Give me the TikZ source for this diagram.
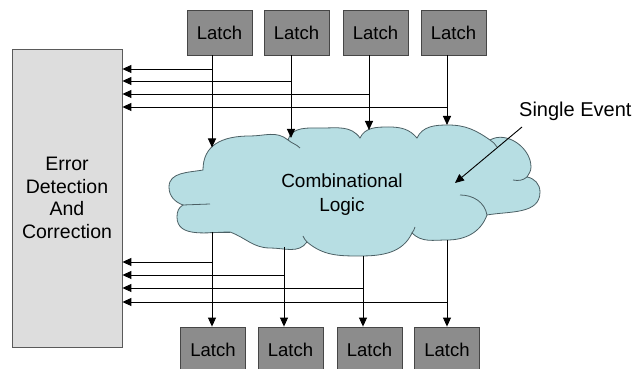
\documentclass[tikz,border=0pt]{standalone}
\usepackage{fontspec}
\setmainfont{Liberation Sans}
\usetikzlibrary{arrows.meta}
\definecolor{latchgray}{RGB}{140,140,140}
\definecolor{latchborder}{RGB}{70,70,70}
\definecolor{edacbg}{RGB}{221,221,221}
\definecolor{edacborder}{RGB}{90,90,90}
\definecolor{cloudbg}{RGB}{183,222,227}
\definecolor{cloudborder}{RGB}{75,95,100}

\begin{document}
\begin{tikzpicture}[
    x=1pt, y=1pt,
    >={Triangle[length=9pt, width=8pt]},
    latch/.style={fill=latchgray, draw=latchborder, line width=0.8pt, minimum width=65pt, minimum height=45pt, inner sep=0pt, font=\fontsize{18.5}{22}\selectfont},
    wire/.style={black, line width=0.9pt},
    crease/.style={cloudborder, line width=0.8pt}
]
\useasboundingbox (0,0) rectangle (641,369);
\clip (0,0) rectangle (641,369);

% Error Detection And Correction block
\node[fill=edacbg, draw=edacborder, line width=0.8pt, minimum width=110pt, minimum height=298pt, inner sep=0pt, align=center, font=\fontsize{19.5}{22.7}\selectfont] (EDAC) at (67,171) {Error\\Detection\\And\\Correction};

% Combinational Logic cloud
\filldraw[fill=cloudbg, draw=cloudborder, line width=0.8pt]
    (203,199) .. controls (203,224) and (222,233) .. (250,233) to[out=0,in=140] (288,229)
    to[out=75,in=180] (322,241) to[out=0,in=125] (360,231)
    to[out=65,in=180] (389,242) to[out=0,in=130] (417,231)
    to[out=65,in=180] (448,244) to[out=0,in=145] (490,229)
    to[out=30,in=90] (531,202) to[out=-90,in=60] (527,192)
    to[out=-10,in=90] (540,177) to[out=-90,in=10] (487,154)
    to[out=-110,in=0] (447,129) to[out=180,in=-45] (412,136)
    to[out=-115,in=0] (360,113) to[out=180,in=-40] (307,127)
    to[out=-125,in=0] (270,121) to[out=180,in=-20] (230,137)
    to[out=180,in=-90] (177,152) to[out=90,in=-150] (183,164)
    to[out=160,in=-90] (169,182) to[out=90,in=190] (203,199) -- cycle;
% cloud creases
\draw[crease] (288,229) to[out=-40,in=135] (300,221);
\draw[crease] (490,229) to[out=-35,in=120] (497,222);
\draw[crease] (527,192) to[out=220,in=-10] (513,189);
\draw[crease] (487,154) to[out=100,in=0] (460,174);
\draw[crease] (412,136) to[out=60,in=-100] (415,142);
\draw[crease] (307,127) to[out=120,in=-80] (303,133);
\draw[crease] (230,137) -- (210,137);
\draw[crease] (183,164) -- (210,165);

\node[inner sep=0pt, align=center, font=\fontsize{19}{24}\selectfont] (LOGIC) at (342,174) {Combinational\\Logic};

% Cloud contact points
\coordinate (IN1) at (212,221.5);
\coordinate (IN2) at (291,231);
\coordinate (IN3) at (369,239);
\coordinate (IN4) at (447,244);
\coordinate (OUT1) at (212,137);
\coordinate (OUT2) at (284,122);
\coordinate (OUT3) at (363,113);
\coordinate (OUT4) at (447,129);
\coordinate (HIT) at (455,186);

% Input latches
\node[latch] (T1) at (219.5,336.5) {Latch};
\node[latch] (T2) at (296.5,336.5) {Latch};
\node[latch] (T3) at (375.5,336.5) {Latch};
\node[latch] (T4) at (453.5,336.5) {Latch};

% Output latches
\node[latch] (B1) at (213,19.5) {Latch};
\node[latch] (B2) at (290.5,19.5) {Latch};
\node[latch] (B3) at (369.5,19.5) {Latch};
\node[latch] (B4) at (447,19.5) {Latch};

% Latch to cloud
\draw[wire, ->] (T1.south -| IN1) -- (IN1);
\draw[wire, ->] (T2.south -| IN2) -- (IN2);
\draw[wire, ->] (T3.south -| IN3) -- (IN3);
\draw[wire, ->] (T4.south -| IN4) -- (IN4);

% Input taps to checker
\draw[wire, ->] (IN1 |- 0,300) -- (EDAC.east |- 0,300);
\draw[wire, ->] (IN2 |- 0,288) -- (EDAC.east |- 0,288);
\draw[wire, ->] (IN3 |- 0,275) -- (EDAC.east |- 0,275);
\draw[wire, ->] (IN4 |- 0,262) -- (EDAC.east |- 0,262);

% Cloud to latch
\draw[wire, ->] (OUT1) -- (OUT1 |- B1.north);
\draw[wire, ->] (OUT2) -- (OUT2 |- B2.north);
\draw[wire, ->] (OUT3) -- (OUT3 |- B3.north);
\draw[wire, ->] (OUT4) -- (OUT4 |- B4.north);

% Output taps to checker
\draw[wire, ->] (OUT1 |- 0,107) -- (EDAC.east |- 0,107);
\draw[wire, ->] (OUT2 |- 0,94) -- (EDAC.east |- 0,94);
\draw[wire, ->] (OUT3 |- 0,81) -- (EDAC.east |- 0,81);
\draw[wire, ->] (OUT4 |- 0,67) -- (EDAC.east |- 0,67);

% Single Event
\node[inner sep=0pt, anchor=base west, font=\fontsize{20}{24}\selectfont] (SE) at (519,252) {Single Event};
\draw[wire, ->] ([xshift=3pt,yshift=-10pt]SE.base west) -- (HIT);

\end{tikzpicture}
\end{document}
